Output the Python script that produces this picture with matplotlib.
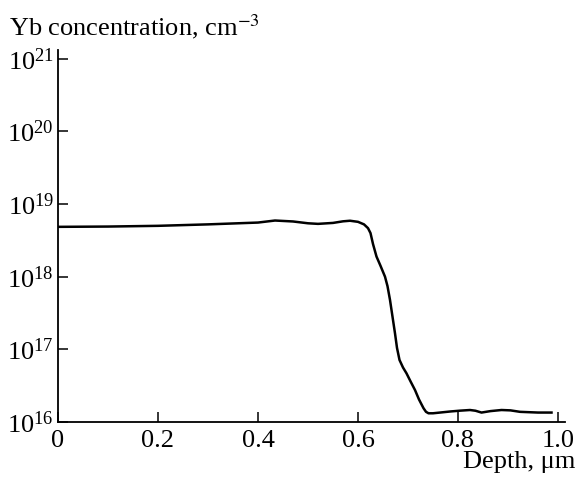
import numpy as np
import matplotlib
matplotlib.use("Agg")
import matplotlib.pyplot as plt

plt.rcParams['font.family'] = ['Liberation Serif', 'DejaVu Serif']
plt.rcParams['mathtext.fontset'] = 'stix'

# depth (um) and log10 of Yb concentration
depth = [0.0, 0.1, 0.2, 0.3, 0.4, 0.434, 0.47, 0.5, 0.52, 0.55, 0.57, 0.584, 0.6,
         0.612, 0.62, 0.625, 0.63, 0.637, 0.645, 0.654, 0.659, 0.664, 0.669, 0.674,
         0.678, 0.683, 0.69, 0.697, 0.705, 0.714, 0.722, 0.731, 0.736, 0.741, 0.75,
         0.764, 0.785, 0.804, 0.824, 0.835, 0.847, 0.865, 0.887, 0.905, 0.924, 0.96,
         0.987]
log_conc = [18.686, 18.69, 18.70, 18.72, 18.745, 18.773, 18.76, 18.735, 18.727, 18.74,
            18.762, 18.77, 18.755, 18.72, 18.668, 18.6, 18.45, 18.277, 18.15, 18.0,
            17.87, 17.68, 17.45, 17.22, 17.02, 16.854, 16.75, 16.67, 16.56, 16.44,
            16.31, 16.19, 16.14, 16.12, 16.12, 16.13, 16.145, 16.156, 16.165, 16.155,
            16.13, 16.15, 16.165, 16.16, 16.14, 16.13, 16.13]

conc = 10 ** np.array(log_conc)

fig = plt.figure(figsize=(5.79, 4.83), dpi=100)
ax = fig.add_axes([58/579, 61/483, (565-58)/579, (422-50)/483])

ax.plot(depth, conc, color='black', lw=1.8, solid_joinstyle='round')

ax.set_yscale('log')
ax.set_xlim(0, 1.014)
ax.set_ylim(1e16, 10**21.12)
ax.set_xticks([0, 0.2, 0.4, 0.6, 0.8, 1.0])
ax.set_xticklabels(['0', '0.2', '0.4', '0.6', '0.8', '1.0'])
ax.set_yticks([1e16, 1e17, 1e18, 1e19, 1e20, 1e21])
ax.yaxis.set_minor_locator(matplotlib.ticker.NullLocator())

for s in ['top', 'right']:
    ax.spines[s].set_visible(False)
for s in ['left', 'bottom']:
    ax.spines[s].set_linewidth(1.3)

ax.tick_params(direction='in', length=7, width=1.1, labelsize=19, pad=3)
ax.tick_params(axis='x', pad=6)

fig.text(9/579, 0.975, r'Yb concentration, cm$^{-3}$', fontsize=19, va='top', ha='left')
fig.text(575/579, 0.02, 'Depth, μm', fontsize=19, va='bottom', ha='right')

fig.savefig('out.png', dpi=100)
